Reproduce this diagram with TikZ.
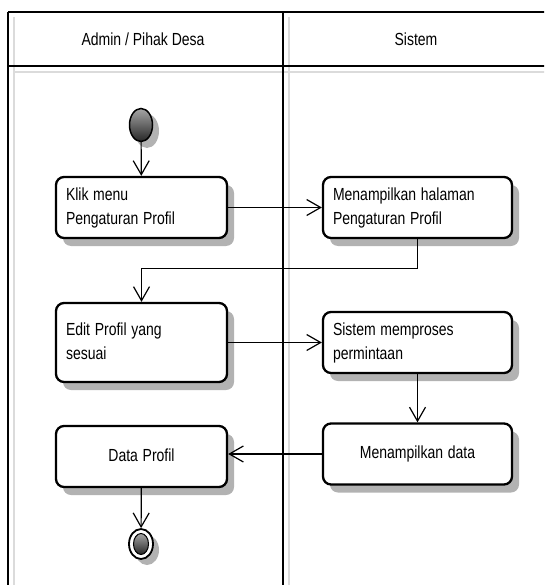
\documentclass[tikz,border=0pt]{standalone}
\usepackage{fontspec}
\setmainfont{Liberation Sans}
\usepackage{graphicx}
\usetikzlibrary{arrows.meta,shapes.geometric}
\newcommand{\vs}[2][l]{\scalebox{1}[1.25]{\begin{tabular}{@{}#1@{}}#2\end{tabular}}}

\begin{document}
\begin{tikzpicture}[x=1pt,y=-1pt,
    font=\fontsize{14}{19}\selectfont,
    lane/.style={line width=2.6pt},
    laneshade/.style={black!14, line width=2pt},
    shadowfill/.style={fill=black!30},
    act/.style={draw, rounded corners=8pt, line width=2.3pt, fill=white, inner xsep=10pt, inner ysep=0pt, align=left, minimum height=61pt},
    flow/.style={line width=1.2pt, -{Straight Barb[length=14pt,width=16pt,line width=1.2pt]}},
    ]
    \useasboundingbox (0,0) rectangle (544,585);
    \begin{scope}
    \clip (0,0) rectangle (544,585);
    % swimlanes
    \draw[laneshade] (14,72) -- (560,72);
    \draw[laneshade] (14,17) -- (14,600);
    \draw[laneshade] (289,17) -- (289,600);
    \draw[lane] (8,12) -- (560,12);
    \draw[lane] (8,66) -- (560,66);
    \draw[lane] (8,12) -- (8,600);
    \draw[lane] (283,12) -- (283,600);
    \end{scope}
    \node (admin) at (143,41) {\vs{Admin / Pihak Desa}};
    \node (sistem) at (416,41) {\vs{Sistem}};

    % shadows
    \foreach \x/\y/\w/\h in {141.5/207.5/171/61, 417.5/207.5/189/61, 141.5/342.5/171/79,
                             417.5/342.5/189/61, 417.5/454/189/61, 141.5/456.5/171/61}
        \fill[shadowfill, rounded corners=8pt] (\x-\w/2+7,\y-\h/2+8) rectangle (\x+\w/2+7,\y+\h/2+8);
    \fill[shadowfill] (147,131) ellipse (12 and 17);
    \fill[shadowfill] (147,550) ellipse (12 and 15);

    \node[ellipse, draw, line width=1.5pt, minimum width=23pt, minimum height=33pt, inner sep=0pt,
          top color=gray!70, bottom color=black!85] (start) at (141,125) {};

    \node[act, text width=151pt] (klik) at (141.5,207.5) {\vs{Klik menu\\Pengaturan Profil}};
    \node[act, text width=169pt] (tampil) at (417.5,207.5) {\vs{Menampilkan halaman\\Pengaturan Profil}};
    \node[act, text width=151pt, minimum height=79pt] (edit) at (141.5,342.5) {\vs{Edit Profil yang\\sesuai}};
    \node[act, text width=169pt] (proses) at (417.5,342.5) {\vs{Sistem memproses\\permintaan}};
    \node[act, text width=169pt, align=center] (data) at (417.5,454) {\vs{Menampilkan data}};
    \node[act, text width=151pt, align=center] (profil) at (141.5,456.5) {\vs{Data Profil}};

    \node[ellipse, draw, line width=1.8pt, fill=white, minimum width=24pt, minimum height=30pt, inner sep=0pt] (end) at (141,544) {};
    \node[ellipse, draw, line width=1pt, minimum width=15pt, minimum height=21pt, inner sep=0pt,
          top color=gray!70, bottom color=black!85] (endin) at (end) {};

    \draw[flow] (start) -- (klik);
    \draw[flow] (klik) -- (tampil);
    \draw[flow] (tampil.south) -- ++(0,29) -| (edit.north);
    \draw[flow] (edit) -- (proses);
    \draw[flow] (proses) -- (data);
    \draw[flow] (data.west) -- (data.west -| profil.east);
    \draw[flow] (profil) -- (end);
\end{tikzpicture}
\end{document}
